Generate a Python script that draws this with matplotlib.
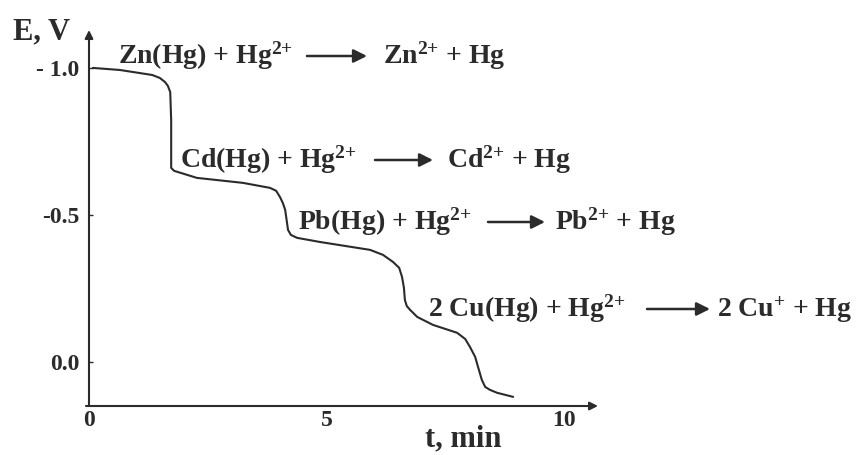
import matplotlib
matplotlib.use('Agg')
import matplotlib.pyplot as plt

plt.rcParams['font.family'] = ['Liberation Serif', 'DejaVu Serif']
plt.rcParams['font.weight'] = 'bold'
plt.rcParams['mathtext.fontset'] = 'custom'
plt.rcParams['mathtext.rm'] = 'Liberation Serif:bold'
plt.rcParams['mathtext.bf'] = 'Liberation Serif:bold'
plt.rcParams['mathtext.default'] = 'rm'

# stripping chronopotentiogram, E vs t
t_min = [0.08, 0.65, 1.33, 1.49, 1.60, 1.66, 1.71, 1.73, 1.73, 1.73, 1.79, 1.87,
         2.27, 3.24, 3.81, 3.94, 4.02, 4.08, 4.13, 4.19, 4.25, 4.38, 4.86, 5.92,
         6.19, 6.40, 6.53, 6.59, 6.63, 6.65, 6.69, 6.76, 6.91, 7.24, 7.75, 7.92,
         8.02, 8.13, 8.19, 8.27, 8.34, 8.44, 8.59, 8.93]
e_volt = [-1.000, -0.993, -0.976, -0.966, -0.952, -0.939, -0.918, -0.823, -0.670,
          -0.660, -0.650, -0.646, -0.626, -0.609, -0.592, -0.582, -0.561, -0.541,
          -0.517, -0.449, -0.432, -0.422, -0.408, -0.381, -0.364, -0.340, -0.320,
          -0.289, -0.252, -0.211, -0.190, -0.177, -0.153, -0.126, -0.099, -0.078,
          -0.051, -0.017, 0.017, 0.061, 0.085, 0.095, 0.105, 0.119]

y_ticks = [-1.0, -0.5, 0.0]
y_ticklabels = ['- 1.0', '-0.5', '0.0']
x_ticks = [0, 5, 10]
x_ticklabels = ['0', '5', '10']

reactions = [
    ('Zn(Hg) + Hg$^{2{+}}$', 'Zn$^{2{+}}$ + Hg'),
    ('Cd(Hg) + Hg$^{2{+}}$', 'Cd$^{2{+}}$ + Hg'),
    ('Pb(Hg) + Hg$^{2{+}}$', 'Pb$^{2{+}}$ + Hg'),
    ('2 Cu(Hg) + Hg$^{2{+}}$', '2 Cu$^{+}$ + Hg'),
]

W, H = 859, 455
ink = '#2b2b2b'

def fp(x, y):
    # pixel position -> figure fraction
    return (x / W, 1 - y / H)

fig = plt.figure(figsize=(W / 100, H / 100), dpi=100)
ax = fig.add_axes([89 / W, 1 - 406 / H, 509 / W, 376 / H])

ax.plot(t_min, e_volt, color=ink, lw=1.5, solid_joinstyle='round',
        solid_capstyle='round')

ax.set_xlim(0, 509 / 47.5)
ax.set_ylim(0.15, -1.129)
for s in ax.spines.values():
    s.set_visible(False)

# axes drawn as arrows
arr = dict(arrowstyle='-|>', color=ink, lw=1.5, mutation_scale=12, shrinkA=0, shrinkB=0)
ax.annotate('', xy=(1, 0), xytext=(-0.006, 0), xycoords='axes fraction', arrowprops=arr)
ax.annotate('', xy=(0, 1), xytext=(0, 0), xycoords='axes fraction', arrowprops=arr)

ax.set_yticks(y_ticks)
ax.set_yticklabels(y_ticklabels)
ax.set_xticks(x_ticks)
ax.set_xticklabels(x_ticklabels)
ax.tick_params(axis='y', direction='in', length=3, width=1, color=ink, pad=7,
               labelsize=17, labelcolor=ink)
ax.tick_params(axis='x', length=0, pad=3, labelsize=17, labelcolor=ink)

fig.text(*fp(13, 39), 'E, V', fontsize=22, color=ink, ha='left', va='baseline')
fig.text(*fp(425, 446), 't, min', fontsize=22, color=ink, ha='left', va='baseline')

# reaction labels: left part x, baseline y, arrow x0, x1, right part x
layout = [(118, 64, 307, 367, 383),
          (180, 168, 375, 433, 447),
          (298, 230, 488, 545, 555),
          (428, 317, 647, 710, 717)]
for (lhs, rhs), (xl, yb, a0, a1, xr) in zip(reactions, layout):
    fig.text(*fp(xl, yb), lhs, fontsize=20, color=ink, ha='left', va='baseline')
    fig.text(*fp(xr, yb), rhs, fontsize=20, color=ink, ha='left', va='baseline')
    ya = yb - 8
    ax.annotate('', xy=fp(a1, ya), xytext=fp(a0, ya), xycoords='figure fraction',
                arrowprops=dict(arrowstyle='-|>', color=ink, lw=1.8,
                                mutation_scale=20, shrinkA=0, shrinkB=0))

fig.savefig('out.png', dpi=100)
